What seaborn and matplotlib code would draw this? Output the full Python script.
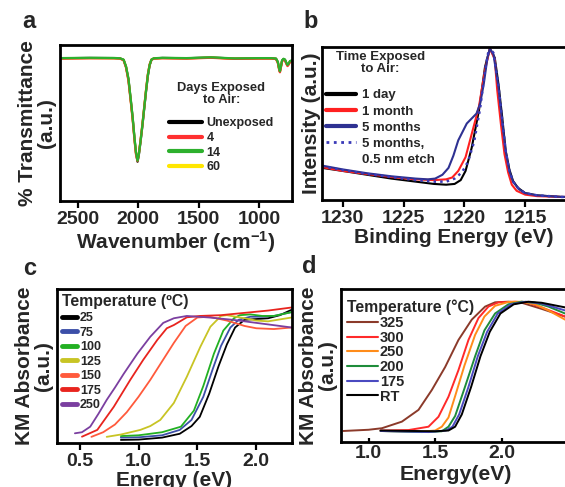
import matplotlib
matplotlib.use("Agg")
import matplotlib.pyplot as plt
import seaborn as sns
from matplotlib.lines import Line2D

# ---------------- data ----------------
# panel a: FTIR
wn_a = [2650, 2400, 2200, 2150, 2120, 2100, 2080, 2060, 2045, 2030, 2018, 2005, 1995, 1980,
        1965, 1950, 1935, 1920, 1905, 1890, 1870, 1800, 1600, 1400, 1200, 1000, 900, 860,
        845, 835, 828, 820, 810, 798, 786, 775, 765, 755, 745, 728]
tr_unexposed = [0.915, 0.917, 0.916, 0.914, 0.905, 0.86, 0.78, 0.64, 0.53, 0.40, 0.31, 0.252, 0.29, 0.38,
                0.48, 0.59, 0.70, 0.80, 0.87, 0.905, 0.914, 0.917, 0.915, 0.92, 0.913, 0.915, 0.915, 0.912,
                0.89, 0.85, 0.83, 0.86, 0.90, 0.91, 0.905, 0.885, 0.87, 0.88, 0.895, 0.90]
tr_4 = [0.913, 0.915, 0.915, 0.913, 0.902, 0.855, 0.77, 0.63, 0.52, 0.39, 0.30, 0.255, 0.30, 0.39,
        0.49, 0.60, 0.71, 0.81, 0.875, 0.906, 0.913, 0.915, 0.913, 0.918, 0.911, 0.913, 0.913, 0.91,
        0.885, 0.845, 0.825, 0.855, 0.895, 0.905, 0.90, 0.88, 0.865, 0.875, 0.89, 0.895]
tr_14 = [0.916, 0.918, 0.917, 0.915, 0.906, 0.862, 0.785, 0.645, 0.535, 0.405, 0.315, 0.258, 0.295, 0.385,
         0.485, 0.595, 0.705, 0.805, 0.872, 0.907, 0.915, 0.918, 0.916, 0.921, 0.914, 0.916, 0.916, 0.913,
         0.892, 0.852, 0.832, 0.862, 0.902, 0.912, 0.907, 0.887, 0.872, 0.882, 0.897, 0.902]
tr_60 = [0.914, 0.916, 0.915, 0.913, 0.904, 0.858, 0.775, 0.635, 0.525, 0.395, 0.305, 0.26, 0.30, 0.39,
         0.49, 0.60, 0.71, 0.81, 0.875, 0.906, 0.914, 0.916, 0.914, 0.919, 0.912, 0.914, 0.914, 0.911,
         0.888, 0.848, 0.828, 0.858, 0.898, 0.908, 0.903, 0.883, 0.868, 0.878, 0.893, 0.898]
ticks_a = [2500, 2000, 1500, 1000]

# panel b: XPS
be_1day = [1231.7, 1230, 1228, 1226, 1224, 1222.5, 1221.5, 1220.8, 1220.3, 1219.9, 1219.4, 1218.8,
           1218.3, 1217.9, 1217.5, 1217.2, 1216.9, 1216.6, 1216.3, 1216.0, 1215.6, 1215.0, 1214.0, 1212.0, 1210]
int_1day = [0.21, 0.19, 0.165, 0.14, 0.12, 0.105, 0.10, 0.105, 0.13, 0.19, 0.34, 0.585,
            0.87, 0.99, 0.93, 0.76, 0.55, 0.32, 0.20, 0.125, 0.08, 0.045, 0.03, 0.02, 0.02]
be_1month = [1231.7, 1230, 1228, 1226, 1224, 1222.5, 1221.5, 1221.0, 1220.5, 1219.9, 1219.4, 1218.8,
             1218.3, 1217.9, 1217.5, 1217.3, 1217.0, 1216.7, 1216.4, 1216.1, 1215.7, 1215.0, 1214.0, 1212.0, 1210]
int_1month = [0.215, 0.19, 0.17, 0.15, 0.135, 0.13, 0.135, 0.147, 0.19, 0.28, 0.43, 0.61,
              0.85, 0.99, 0.92, 0.72, 0.50, 0.30, 0.18, 0.10, 0.06, 0.035, 0.025, 0.02, 0.02]
be_5months = [1231.7, 1230, 1228, 1226, 1224, 1223, 1222.4, 1221.8, 1221.3, 1220.9, 1220.5, 1219.8, 1219.0,
              1218.7, 1218.4, 1218.1, 1217.9, 1217.6, 1217.2, 1216.9, 1216.6, 1216.3, 1216.0, 1215.5,
              1215.0, 1214.0, 1212.0, 1210]
int_5months = [0.225, 0.20, 0.175, 0.155, 0.14, 0.135, 0.14, 0.165, 0.21, 0.29, 0.39, 0.50, 0.565,
               0.63, 0.76, 0.93, 0.99, 0.95, 0.74, 0.52, 0.32, 0.19, 0.12, 0.07,
               0.045, 0.03, 0.02, 0.02]
be_etch = [1231.7, 1230, 1228, 1226, 1224, 1222.5, 1221.5, 1220.8, 1220.2, 1219.7, 1219.2, 1218.7,
           1218.3, 1217.95, 1217.6, 1217.2, 1216.9, 1216.6, 1216.3, 1216.0, 1215.5, 1215.0, 1214.0, 1212.0, 1210]
int_etch = [0.22, 0.195, 0.17, 0.15, 0.13, 0.12, 0.12, 0.14, 0.18, 0.25, 0.38, 0.60,
            0.85, 1.0, 0.96, 0.75, 0.53, 0.32, 0.19, 0.12, 0.07, 0.045, 0.03, 0.02, 0.02]
ticks_b = [1230, 1225, 1220, 1215]

# panel c: KM absorbance vs annealing temperature
e_c25 = [0.85, 1.0, 1.2, 1.35, 1.45, 1.52, 1.6, 1.68, 1.75, 1.82, 1.9, 2.0, 2.1, 2.2, 2.3]
km_c25 = [0.02, 0.022, 0.035, 0.06, 0.11, 0.17, 0.32, 0.50, 0.64, 0.75, 0.80, 0.805, 0.81, 0.83, 0.865]
e_c75 = [0.85, 1.0, 1.2, 1.35, 1.45, 1.55, 1.63, 1.7, 1.78, 1.85, 1.95, 2.05, 2.15, 2.3]
km_c75 = [0.035, 0.037, 0.05, 0.085, 0.15, 0.30, 0.48, 0.63, 0.75, 0.80, 0.82, 0.82, 0.825, 0.85]
e_c100 = [0.85, 1.0, 1.2, 1.36, 1.47, 1.55, 1.64, 1.72, 1.81, 1.86, 1.95, 2.05, 2.15, 2.3]
km_c100 = [0.045, 0.05, 0.07, 0.106, 0.21, 0.37, 0.58, 0.73, 0.81, 0.83, 0.835, 0.825, 0.825, 0.85]
e_c125 = [0.73, 0.85, 1.015, 1.1, 1.185, 1.3, 1.41, 1.525, 1.61, 1.7, 1.75, 1.9, 2.0, 2.1, 2.3]
km_c125 = [0.04, 0.055, 0.085, 0.11, 0.15, 0.26, 0.43, 0.625, 0.755, 0.825, 0.83, 0.81, 0.795, 0.79, 0.815]
e_c150 = [0.6, 0.7, 0.8, 0.9, 1.0, 1.1, 1.2, 1.3, 1.4, 1.5, 1.6, 1.75, 1.9, 2.0, 2.15, 2.3]
km_c150 = [0.04, 0.07, 0.12, 0.20, 0.30, 0.41, 0.53, 0.65, 0.76, 0.815, 0.82, 0.795, 0.76, 0.745, 0.74, 0.75]
e_c175 = [0.52, 0.65, 0.79, 0.93, 1.04, 1.16, 1.24, 1.3, 1.41, 1.52, 1.7, 1.9, 2.1, 2.3]
km_c175 = [0.041, 0.085, 0.235, 0.41, 0.54, 0.67, 0.745, 0.766, 0.816, 0.825, 0.83, 0.845, 0.86, 0.88]
e_c250 = [0.46, 0.52, 0.59, 0.66, 0.73, 0.8, 0.875, 0.99, 1.1, 1.21, 1.3, 1.41, 1.6, 1.8, 2.0, 2.15, 2.3]
km_c250 = [0.063, 0.07, 0.106, 0.19, 0.28, 0.36, 0.45, 0.58, 0.69, 0.78, 0.81, 0.825, 0.815, 0.80, 0.78, 0.765, 0.75]
ticks_c = [0.5, 1.0, 1.5, 2.0]

# panel d
e_d325 = [0.81, 1.0, 1.1, 1.25, 1.375, 1.475, 1.575, 1.675, 1.775, 1.875, 1.95, 2.05, 2.15, 2.3, 2.475]
km_d325 = [0.072, 0.08, 0.09, 0.133, 0.21, 0.34, 0.49, 0.667, 0.80, 0.885, 0.913, 0.917, 0.91, 0.87, 0.82]
e_d300 = [1.09, 1.3, 1.45, 1.525, 1.6, 1.675, 1.75, 1.825, 1.9, 1.975, 2.1, 2.2, 2.3, 2.475]
km_d300 = [0.075, 0.078, 0.10, 0.165, 0.296, 0.47, 0.667, 0.81, 0.885, 0.913, 0.917, 0.91, 0.88, 0.82]
e_d250 = [1.09, 1.4, 1.5, 1.55, 1.6, 1.65, 1.72, 1.8, 1.87, 1.95, 2.05, 2.15, 2.25, 2.35, 2.475]
km_d250 = [0.072, 0.068, 0.075, 0.10, 0.16, 0.30, 0.50, 0.70, 0.82, 0.89, 0.915, 0.917, 0.90, 0.86, 0.80]
e_d200 = [1.09, 1.4, 1.55, 1.6, 1.65, 1.72, 1.8, 1.87, 1.95, 2.05, 2.15, 2.25, 2.35, 2.475]
km_d200 = [0.072, 0.065, 0.07, 0.10, 0.17, 0.35, 0.56, 0.73, 0.84, 0.90, 0.917, 0.91, 0.885, 0.84]
e_d175 = [1.09, 1.45, 1.58, 1.63, 1.68, 1.75, 1.82, 1.89, 1.97, 2.07, 2.18, 2.3, 2.475]
km_d175 = [0.072, 0.065, 0.075, 0.10, 0.18, 0.36, 0.56, 0.72, 0.84, 0.90, 0.917, 0.905, 0.86]
e_dRT = [1.09, 1.5, 1.6, 1.65, 1.7, 1.77, 1.84, 1.91, 1.99, 2.09, 2.2, 2.3, 2.475]
km_dRT = [0.075, 0.07, 0.075, 0.10, 0.18, 0.36, 0.56, 0.72, 0.84, 0.90, 0.917, 0.91, 0.88]
ticks_d = [1.0, 1.5, 2.0]

# ---------------- style ----------------
sns.set_style("ticks")
plt.rcParams['font.family'] = ['Liberation Sans', 'DejaVu Sans']
plt.rcParams['font.weight'] = 'bold'
plt.rcParams['axes.labelweight'] = 'bold'
plt.rcParams['mathtext.fontset'] = 'custom'
plt.rcParams['mathtext.rm'] = 'Liberation Sans:bold'
plt.rcParams['mathtext.bf'] = 'Liberation Sans:bold'
plt.rcParams['mathtext.default'] = 'bf'

W, H = 565, 487
fig = plt.figure(figsize=(W / 100, H / 100), dpi=100)


def box(l, t, r, b):
    return [l / W, 1 - b / H, (r - l) / W, (b - t) / H]


axa = fig.add_axes(box(60, 45, 292, 201))
axb = fig.add_axes(box(322, 47, 586, 200))
axc = fig.add_axes(box(57, 289, 292, 443))
axd = fig.add_axes(box(341, 289, 571, 442))


def line(ax, x, y, color, lw=1.5, ls='-'):
    sns.lineplot(x=x, y=y, ax=ax, color=color, lw=lw, ls=ls,
                 errorbar=None, sort=False, legend=False)


def style_axis(ax, direction='out', length=5):
    for s in ax.spines.values():
        s.set_linewidth(2.0)
        s.set_color('black')
        s.set_visible(True)
    ax.tick_params(axis='x', direction=direction, length=length, width=1.6,
                   labelsize=14, pad=2, color='black')
    ax.tick_params(axis='y', left=False, labelleft=False)
    for t in ax.get_xticklabels():
        t.set_fontweight('bold')


def proxies(specs, lw):
    return [Line2D([], [], color=c, lw=lw, ls=ls) for c, ls in specs]


def make_legend(ax, handles, labels, title, anchor, size, tsize, hl, htp, ls, title_gap,
                align='left'):
    leg = ax.legend(handles, labels, title=title, loc='upper left', bbox_to_anchor=anchor,
                    frameon=False, prop={'weight': 'bold', 'size': size},
                    title_fontproperties={'weight': 'bold', 'size': tsize},
                    handlelength=hl, handletextpad=htp, labelspacing=ls, borderpad=0,
                    borderaxespad=0, alignment=align)
    leg.get_title().set_multialignment('center')
    leg.get_title().set_linespacing(1.05)
    leg._legend_box.sep = title_gap
    return leg


# ---- panel a ----
line(axa, wn_a, tr_unexposed, 'black', lw=1.6)
line(axa, wn_a, tr_60, '#FFE600', lw=1.6)
line(axa, wn_a, tr_4, '#FF3030', lw=1.6)
line(axa, wn_a, tr_14, '#2DB02D', lw=1.6)
axa.set_xlim(2646, 728)
axa.set_ylim(0, 1)
axa.set_xticks(ticks_a)
style_axis(axa)
axa.set_xlabel('Wavenumber (cm$^{-1}$)', fontsize=15, labelpad=1)
axa.set_ylabel('% Transmittance\n(a.u.)', fontsize=15, labelpad=3, linespacing=1.0)
make_legend(axa, proxies([('black', '-'), ('#FF3030', '-'), ('#2DB02D', '-'), ('#FFE600', '-')], 3.0),
            ['Unexposed', '4', '14', '60'], 'Days Exposed\nto Air:', (0.47, 0.765),
            9, 9.3, 2.6, 0.4, 0.22, 8, align='center')

# ---- panel b ----
line(axb, be_1day, int_1day, 'black', lw=1.5)
line(axb, be_1month, int_1month, '#FF2020', lw=1.5)
line(axb, be_5months, int_5months, '#2E3192', lw=1.5)
line(axb, be_etch, int_etch, '#3A3AB8', lw=1.8, ls=':')
axb.set_xlim(1231.7, 1210)
axb.set_ylim(0, 1.0)
axb.set_xticks(ticks_b)
style_axis(axb)
axb.set_xlabel('Binding Energy (eV)', fontsize=15, labelpad=1)
axb.set_ylabel('Intensity (a.u.)', fontsize=15, labelpad=1)
hb = proxies([('black', '-'), ('#FF2020', '-'), ('#2E3192', '-')], 3.0)
hb += [Line2D([], [], color='#3A3AB8', lw=2.0, ls=':'), Line2D([], [], color='none', lw=0)]
make_legend(axb, hb, ['1 day', '1 month', '5 months', '5 months,', '0.5 nm etch'],
            'Time Exposed\nto Air:', (0.015, 0.975), 9.5, 9.5, 2.3, 0.4, 0.3, 10, align='center')

# ---- panel c ----
c_series = [(e_c25, km_c25, 'black', '25'),
            (e_c75, km_c75, '#3C4FA8', '75'),
            (e_c100, km_c100, '#22B022', '100'),
            (e_c125, km_c125, '#C8C424', '125'),
            (e_c150, km_c150, '#FF5A3C', '150'),
            (e_c175, km_c175, '#E8241E', '175'),
            (e_c250, km_c250, '#7B3FA0', '250')]
for x, y, c, lab in c_series:
    line(axc, x, y, c, lw=1.3)
axc.set_xlim(0.308, 2.303)
axc.set_ylim(0, 1)
axc.set_xticks(ticks_c)
style_axis(axc)
axc.set_xlabel('Energy (eV)', fontsize=15, labelpad=1)
axc.set_ylabel('KM Absorbance\n(a.u.)', fontsize=15, labelpad=3, linespacing=1.0)
make_legend(axc, proxies([(s[2], '-') for s in c_series], 3.5), [s[3] for s in c_series],
            'Temperature (\u00baC)', (0.02, 0.965), 9, 11.3, 1.2, 0.25, 0.2, 2)

# ---- panel d ----
d_series = [(e_d325, km_d325, '#8B3A2A', '325'),
            (e_d300, km_d300, '#FF2A2A', '300'),
            (e_d250, km_d250, '#FF8C1A', '250'),
            (e_d200, km_d200, '#1E8C3A', '200'),
            (e_d175, km_d175, '#4A4AC0', '175'),
            (e_dRT, km_dRT, 'black', 'RT')]
for x, y, c, lab in d_series:
    line(axd, x, y, c, lw=1.4)
axd.set_xlim(0.793, 2.52)
axd.set_ylim(0, 1)
axd.set_xticks(ticks_d)
style_axis(axd, direction='in', length=3)
axd.set_xlabel('Energy(eV)', fontsize=15.3, labelpad=2)
axd.set_ylabel('KM Absorbance\n(a.u.)', fontsize=15, labelpad=3, linespacing=1.0)
make_legend(axd, proxies([(s[2], '-') for s in d_series], 1.5), [s[3] for s in d_series],
            'Temperature (\u00b0C)', (0.026, 0.935), 10.5, 11.3, 2.1, 0.15, 0.05, 1)

# panel letters
for txt, x, y in [('a', 22, 28), ('b', 303, 28), ('c', 23, 275), ('d', 302, 273)]:
    fig.text(x / W, 1 - y / H, txt, fontsize=17, fontweight='bold', va='baseline', ha='left')

fig.savefig('out.png', dpi=100)
